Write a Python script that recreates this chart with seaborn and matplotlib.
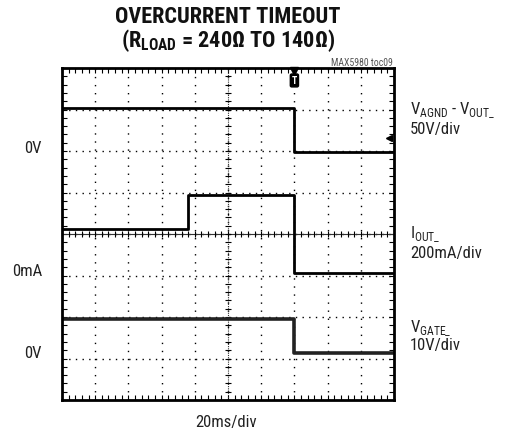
import numpy as np
import pandas as pd
import matplotlib
matplotlib.use("Agg")
import matplotlib.pyplot as plt
from matplotlib import font_manager as fm
import seaborn as sns

# trace data, in screen divisions (10 x 8 graticule)
t_gate = [0, 7, 7, 10]
v_agnd_out = [7.03, 7.03, 5.98, 5.98]
v_gate = [1.94, 1.94, 1.13, 1.13]
t_iout = [0, 3.8, 3.8, 7, 7, 10]
i_out = [4.12, 4.12, 4.94, 4.94, 3.06, 3.06]

# reference (zero) labels on the left, baseline in divisions
ref_labels = ["0V", "0mA", "0V"]
ref_base = [5.98, 3.01, 1.04]

# channel labels on the right, baselines in divisions
ch_names = [r"V$_{\mathrm{AGND}}$ - V$_{\mathrm{OUT\_}}$", r"I$_{\mathrm{OUT\_}}$", r"V$_{\mathrm{GATE\_}}$"]
ch_scales = ["50V/div", "200mA/div", "10V/div"]
name_base = [6.92, 3.93, 1.66]
scale_base = [6.43, 3.45, 1.23]

# pick a narrow font if one is installed
fam, stretch = "Liberation Sans", "normal"
fonts = fm.fontManager.ttflist
names = {f.name for f in fonts}
for n in ["Liberation Sans Narrow", "Roboto Condensed", "Open Sans Condensed", "Noto Sans Condensed",
          "DejaVu Sans Condensed", "Noto Sans Display"]:
    if n in names:
        fam = n
        break
else:
    for n in ["Noto Sans", "DejaVu Sans", "Roboto", "Open Sans", "Inter"]:
        hit = [f for f in fonts if f.name == n and str(f.stretch) in ("condensed", "semi-condensed", "extra-condensed")]
        if hit:
            fam, stretch = n, hit[0].stretch
            break

sns.set_theme(style="white")
plt.rcParams["font.family"] = [fam, "DejaVu Sans"]
plt.rcParams["font.stretch"] = stretch
plt.rcParams["mathtext.fontset"] = "custom"
plt.rcParams["mathtext.rm"] = f"{fam}:stretch={stretch}"
plt.rcParams["mathtext.bf"] = f"{fam}:bold:stretch={stretch}"
narrow = stretch != "normal" or fam != "Liberation Sans"
fs = 12 if narrow else 10.5
tfs = 16 if narrow else 13

fig = plt.figure(figsize=(5.13, 4.35), dpi=100)
ax = fig.add_axes([62 / 513, 1 - 401 / 435, 332 / 513, 332 / 435])

# graticule
ax.set_xlim(0, 10)
ax.set_ylim(0, 8)
ax.set_xticks(np.arange(0, 11, 1))
ax.set_yticks(np.arange(0, 9, 1))
ax.set_xticks(np.arange(0, 10.01, 0.2), minor=True)
ax.set_yticks(np.arange(0, 8.01, 0.2), minor=True)
ax.tick_params(which="both", direction="in", length=3.5, width=0.8, color="black",
               top=True, right=True, bottom=True, left=True,
               labelbottom=False, labelleft=False)
ax.grid(axis="x", color="black", lw=1.0, linestyle=(0, (1, 4.8)))
ax.grid(axis="y", color="black", lw=1.0, linestyle=(0, (1, 3.8)))
for s in ax.spines.values():
    s.set_linewidth(2.0)
    s.set_color("black")

# center cross with fine ticks
ax.axhline(4, color="#333333", lw=0.8)
ax.axvline(5, color="#333333", lw=0.8, linestyle=(0, (1, 1)))
ax.plot(np.arange(0, 10.01, 0.2), np.full(51, 4.0), ls="none", marker="|", ms=5, mew=0.8, color="black")
ax.plot(np.full(41, 5.0), np.arange(0, 8.01, 0.2), ls="none", marker="_", ms=5, mew=0.8, color="black")

# traces
sns.lineplot(x=t_gate, y=v_agnd_out, sort=False, estimator=None, color="black", lw=2.0, ax=ax)
sns.lineplot(x=t_iout, y=i_out, sort=False, estimator=None, color="black", lw=2.0, ax=ax)
sns.lineplot(x=t_gate, y=v_gate, sort=False, estimator=None, color="#222222", lw=2.6, ax=ax)

# trigger and level markers
ax.plot(7, 7.93, marker="v", ms=6, color="black", clip_on=False)
ax.text(7, 7.7, "T", ha="center", va="center", fontsize=7, color="white", fontweight="bold",
        bbox=dict(boxstyle="round,pad=0.15", fc="black", ec="black"))
ax.plot(9.85, 6.31, marker="<", ms=5, color="black", clip_on=False)

for lab, b in zip(ref_labels, ref_base):
    ax.text(-0.6, b, lab, ha="right", va="baseline", fontsize=fs, color="#222222")

for nm, sc, b1, b2 in zip(ch_names, ch_scales, name_base, scale_base):
    ax.text(10.48, b1, nm, ha="left", va="baseline", fontsize=fs, color="#222222")
    ax.text(10.48, b2, sc, ha="left", va="baseline", fontsize=fs, color="#222222")

ax.text(4.95, -0.63, "20ms/div", ha="center", va="baseline", fontsize=fs, color="#222222")

fig.text(228 / 513, 1 - 23 / 435, "OVERCURRENT TIMEOUT", ha="center", va="baseline",
         fontsize=tfs, fontweight="bold", color="#111111")
fig.text(228 / 513, 1 - 47 / 435, r"(R$_{\mathbf{LOAD}}$ = 240Ω TO 140Ω)", ha="center", va="baseline",
         fontsize=tfs, fontweight="bold", color="#111111")
fig.text(393 / 513, 1 - 63 / 435, "MAX5980 toc09", ha="right", va="center", fontsize=7, color="#555555")

fig.savefig("out.png", dpi=100)
